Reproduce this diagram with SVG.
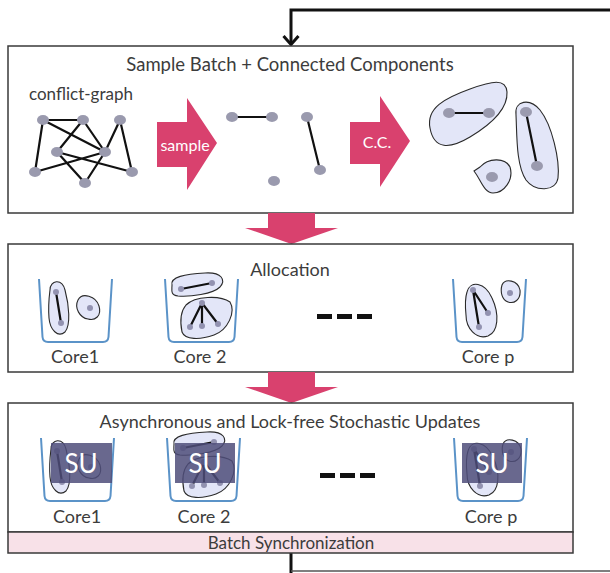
<svg xmlns="http://www.w3.org/2000/svg" xmlns:xlink="http://www.w3.org/1999/xlink" width="610" height="573" viewBox="0 0 610 573">
<style>
.box{fill:#fff;stroke:#3a3a3a;stroke-width:1.5}
.t{font-family:Lato,"Liberation Sans",sans-serif;fill:#3c3c3c;text-anchor:middle}
.w{font-family:Lato,"Liberation Sans",sans-serif;fill:#fff;text-anchor:middle}
.pink{fill:#d9416e}
.e{stroke:#111;stroke-width:2.2;fill:none;stroke-linecap:round}
.n{fill:#9a9aae}
.dn{fill:#9292b0}
.blob{fill:#e3e6f8;stroke:#2a2a2a;stroke-width:1.1}
.cup{fill:none;stroke:#5b93c8;stroke-width:2}
.dash{fill:#111}
.su{fill:#4f4e7a;opacity:0.85}
.conn{fill:none;stroke:#111;stroke-width:3}
</style>
<defs>
<path id="cup" class="cup" d="M0,0 L3.5,58 Q4,63 9,63 L64,63 Q69,63 69.5,58 L73,0"/>
<g id="c1">
<path class="blob" d="M50,290 C50,280 62,278 65,290 C69,305 71,325 65,332 C58,338 50,330 49,318 C48,305 49,298 50,290 Z"/>
<line class="e" x1="56" y1="292" x2="61" y2="323"/>
<circle class="dn" cx="56" cy="292" r="3"/><circle class="dn" cx="61" cy="323" r="3"/>
<path class="blob" d="M78,300 C82,292 96,296 99,306 C102,316 95,321 88,319 C80,318 74,308 78,300 Z"/>
<circle class="dn" cx="90" cy="308" r="3"/>
</g>
<g id="c2">
<path class="blob" d="M172,285 C170,277 185,274 205,273 C222,272 226,280 220,287 C213,294 190,297 178,296 C170,295 172,290 172,285 Z"/>
<line class="e" x1="181" y1="289" x2="212" y2="283"/>
<circle class="dn" cx="181" cy="289" r="3"/><circle class="dn" cx="212" cy="283" r="3"/>
<path class="blob" d="M186,305 C195,296 220,295 230,302 C236,312 228,330 214,335 C200,340 185,340 182,332 C180,322 180,312 186,305 Z"/>
<path class="e" d="M202,303 L190,327 M202,303 L202,326 M202,303 L218,324"/>
<circle class="dn" cx="202" cy="303" r="3"/><circle class="dn" cx="190" cy="327" r="3"/><circle class="dn" cx="202" cy="326" r="3"/><circle class="dn" cx="218" cy="324" r="3"/>
</g>
<g id="cp">
<path class="blob" d="M467,292 C470,280 485,282 492,298 C500,315 498,332 488,336 C476,340 466,328 466,315 C465,305 465,298 467,292 Z"/>
<path class="e" d="M473,290 L488,313 M473,290 L479,327"/>
<circle class="dn" cx="473" cy="290" r="3"/><circle class="dn" cx="488" cy="313" r="3"/><circle class="dn" cx="479" cy="327" r="3"/>
<path class="blob" d="M502,285 C505,278 518,280 520,290 C521,300 514,304 508,302 C502,300 500,292 502,285 Z"/>
<circle class="dn" cx="510" cy="293" r="3"/>
</g>
<g id="dashes">
<rect class="dash" x="0" y="0" width="15" height="5"/>
<rect class="dash" x="20" y="0" width="15" height="5"/>
<rect class="dash" x="40" y="0" width="15" height="5"/>
</g>
</defs>

<g id="connectors">
<path class="conn" d="M610,10 L291,10 L291,44"/>
<polyline class="conn" points="283.5,36 291,44.5 298.5,36"/>
<path class="conn" d="M291,553 L291,573"/>
<path fill="none" stroke="#555" stroke-width="1.5" d="M291,571 L610,571"/>
</g>

<g id="box-sample">
<rect class="box" x="8" y="46" width="565" height="167"/>
<text class="t" x="290" y="71" font-size="18.5">Sample Batch + Connected Components</text>
<text class="t" x="81" y="100" font-size="17">conflict-graph</text>
<g id="conflict-graph">
<path class="e" d="M43,120 L83,120 M43,120 L35,172 M43,120 L105,152 M83,120 L57,152 M83,120 L105,152 M120,120 L105,152 M120,120 L132,172 M57,152 L85,183 M57,152 L132,172 M35,172 L105,152 M105,152 L85,183"/>
<ellipse class="n" cx="43" cy="120" rx="6" ry="5"/>
<ellipse class="n" cx="83" cy="120" rx="6" ry="5"/>
<ellipse class="n" cx="120" cy="120" rx="6" ry="5"/>
<ellipse class="n" cx="57" cy="152" rx="6" ry="5"/>
<ellipse class="n" cx="105" cy="152" rx="6" ry="5"/>
<ellipse class="n" cx="35" cy="172" rx="6" ry="5"/>
<ellipse class="n" cx="132" cy="172" rx="6" ry="5"/>
<ellipse class="n" cx="85" cy="183" rx="6" ry="5"/>
</g>
<g id="arrow-sample">
<path class="pink" d="M157,122 L187,122 L187,98 L217,143 L187,190 L187,167 L157,167 Z"/>
<text class="w" x="185" y="151" font-size="16">sample</text>
</g>
<g id="sampled">
<path class="e" d="M232,117 L272,117 M307,117 L320,170"/>
<ellipse class="n" cx="232" cy="117" rx="6" ry="5"/>
<ellipse class="n" cx="272" cy="117" rx="6" ry="5"/>
<ellipse class="n" cx="307" cy="117" rx="6" ry="5"/>
<ellipse class="n" cx="320" cy="170" rx="6" ry="5"/>
<ellipse class="n" cx="274" cy="181" rx="6" ry="5"/>
</g>
<g id="arrow-cc">
<path class="pink" d="M350,122 L380,122 L380,96 L410,141 L380,187 L380,164 L350,164 Z"/>
<text class="w" x="377" y="148" font-size="16">C.C.</text>
</g>
<g id="components">
<path class="blob" d="M430,128 C426,108 445,98 470,89 C492,81 506,78 507,92 C508,110 490,125 470,137 C450,149 434,150 430,128 Z"/>
<path class="e" d="M449,113 L489,113"/>
<ellipse class="n" cx="449" cy="113" rx="6" ry="5"/>
<ellipse class="n" cx="489" cy="113" rx="6" ry="5"/>
<path class="blob" d="M516,115 C514,100 530,98 540,110 C552,125 560,160 558,178 C556,192 535,192 526,180 C516,165 517,135 516,115 Z"/>
<path class="e" d="M526,112 L537,166"/>
<ellipse class="n" cx="526" cy="112" rx="6" ry="5"/>
<ellipse class="n" cx="537" cy="166" rx="6" ry="5"/>
<path class="blob" d="M474,171 L480,167 C488,158 505,157 510,167 C514,180 504,193 493,193 C484,193 481,180 474,171 Z"/>
<ellipse class="n" cx="492" cy="177" rx="6" ry="5"/>
</g>
</g>

<g id="arrow-down-1">
<path class="pink" d="M268,213 L315,213 L315,228 L338,228 L291.5,244 L245,228 L268,228 Z"/>
</g>

<g id="box-allocation">
<rect class="box" x="8" y="244" width="565" height="128"/>
<text class="t" x="290" y="276" font-size="18">Allocation</text>
<use xlink:href="#cup" x="39" y="279"/>
<use xlink:href="#cup" x="165" y="279"/>
<use xlink:href="#cup" x="453" y="279"/>
<use xlink:href="#c1"/>
<use xlink:href="#c2"/>
<use xlink:href="#cp"/>
<use xlink:href="#dashes" x="317" y="314"/>
<text class="t" x="75" y="363" font-size="18">Core1</text>
<text class="t" x="200" y="363" font-size="18">Core 2</text>
<text class="t" x="488" y="363" font-size="18">Core p</text>
</g>

<g id="arrow-down-2">
<path class="pink" d="M268,372 L315,372 L315,387 L338,387 L291.5,403 L245,387 L268,387 Z"/>
</g>

<g id="box-updates">
<rect class="box" x="8" y="403" width="565" height="129"/>
<text class="t" x="290" y="428" font-size="18">Asynchronous and Lock-free Stochastic Updates</text>
<use xlink:href="#cup" x="41" y="438"/>
<use xlink:href="#cup" x="167" y="438"/>
<use xlink:href="#cup" x="454" y="438"/>
<use xlink:href="#c1" x="1" y="159"/>
<use xlink:href="#c2" x="2" y="159"/>
<use xlink:href="#cp" x="1" y="159"/>
<rect class="su" x="51" y="443" width="61" height="40"/>
<rect class="su" x="175" y="443" width="60" height="40"/>
<rect class="su" x="462" y="443" width="60" height="40"/>
<text class="w" x="81" y="473" font-size="26">SU</text>
<text class="w" x="205" y="473" font-size="26">SU</text>
<text class="w" x="492" y="473" font-size="26">SU</text>
<use xlink:href="#dashes" x="320" y="473"/>
<text class="t" x="77" y="523" font-size="18">Core1</text>
<text class="t" x="204" y="523" font-size="18">Core 2</text>
<text class="t" x="491" y="523" font-size="18">Core p</text>
</g>

<g id="batch-sync">
<rect x="8" y="532" width="565" height="21" fill="#f8e1e8" stroke="#3a3a3a" stroke-width="1.5"/>
<text class="t" x="291" y="549" font-size="17">Batch Synchronization</text>
</g>
</svg>
